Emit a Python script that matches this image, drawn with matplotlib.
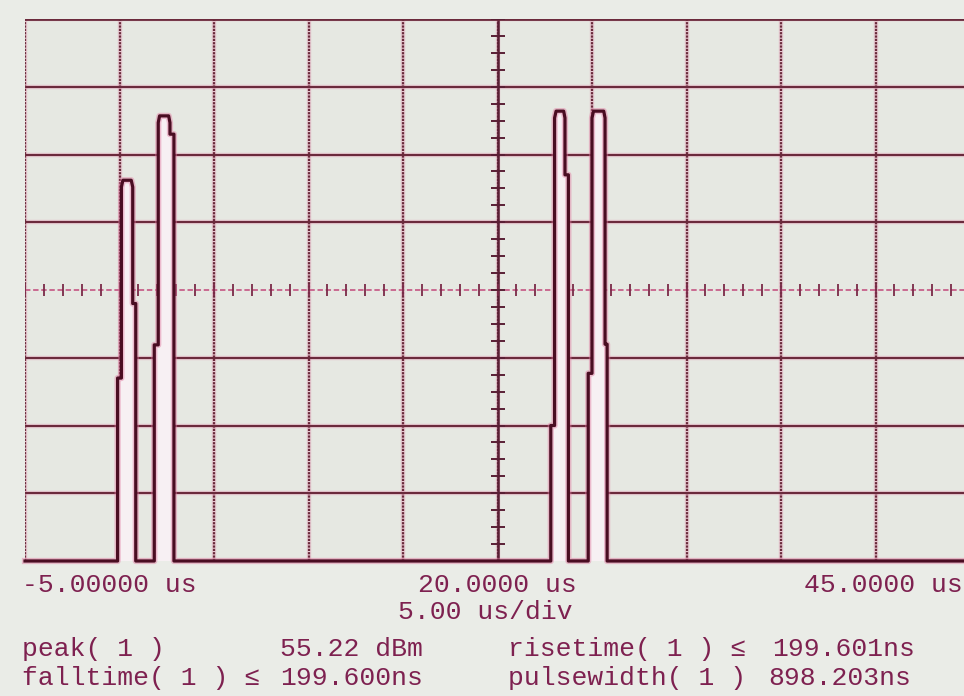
import numpy as np
import matplotlib.pyplot as plt
from matplotlib.transforms import offset_copy

# time axis of the scope (us) and screen divisions
t_start, t_stop = -5.0, 45.0
us_per_div = 5.0
n_vdiv = 8

time_ticks = [-5, 20, 45]
time_labels = ['-5.00000 us', '20.0000 us', '45.0000 us']
timebase_text = '5.00 us/div'

# pulse traces, time in us, level in screen divisions
pulse1_t = [-0.10, -0.10, 0.10, 0.10, 0.18, 0.62, 0.70, 0.70, 0.86, 0.86]
pulse1_lvl = [0, 2.70, 2.70, 5.52, 5.62, 5.62, 5.52, 3.80, 3.80, 0]
pulse2_t = [1.84, 1.84, 2.05, 2.05, 2.12, 2.60, 2.67, 2.67, 2.88, 2.88]
pulse2_lvl = [0, 3.19, 3.19, 6.47, 6.57, 6.57, 6.47, 6.30, 6.30, 0]
pulse3_t = [22.82, 22.82, 23.02, 23.02, 23.10, 23.50, 23.57, 23.57, 23.75, 23.75]
pulse3_lvl = [0, 2.00, 2.00, 6.54, 6.64, 6.64, 6.54, 5.70, 5.70, 0]
pulse4_t = [24.80, 24.80, 25.00, 25.00, 25.08, 25.62, 25.69, 25.69, 25.80, 25.80]
pulse4_lvl = [0, 2.77, 2.77, 6.54, 6.64, 6.64, 6.54, 3.20, 3.20, 0]

# measurement readout
meas_names = ['peak( 1 )', 'risetime( 1 ) \u2264', 'falltime( 1 ) \u2264', 'pulsewidth( 1 )']
meas_values = ['55.22 dBm', '199.601ns', '199.600ns', '898.203ns']

grid_c = '#6b2a3c'
trace_c = '#4a0d22'
text_c = '#7e2150'
font = 'Liberation Mono'

fig = plt.figure(figsize=(9.64, 6.96), dpi=100, facecolor='#eaece7')
ax = fig.add_axes([25 / 964, 135 / 696, 945 / 964, 542 / 696])
ax.set_facecolor('#e6e8e2')
ax.set_xlim(t_start, t_stop)
ax.set_ylim(0, n_vdiv)
for s in ax.spines.values():
    s.set_visible(False)
ax.set_xticks([])
ax.set_yticks([])

# graticule
grid_x = np.arange(t_start, t_stop + 0.1, us_per_div)
for x in grid_x:
    ax.axvline(x, color='#e07aa0', lw=3.2, alpha=0.3, zorder=1)
    ax.axvline(x, color=grid_c, lw=1.6, ls=(0, (1.0, 0.5)), zorder=2)
for y in range(n_vdiv + 1):
    if y == n_vdiv // 2:
        continue
    ax.axhline(y, color='#e07aa0', lw=3.2, alpha=0.3, zorder=1)
    ax.axhline(y, color=grid_c, lw=1.5, zorder=2)

# centre lines with minor ticks
mid_t = (t_start + t_stop) / 2
ax.axvline(mid_t, color='#5a1f35', lw=1.8, zorder=2)
ax.axhline(n_vdiv / 2, color='#c8608a', lw=1.3, ls=(0, (3, 1.5)), zorder=2)
ax.plot(np.arange(t_start, t_stop + 0.01, us_per_div / 5), np.full(51, n_vdiv / 2),
        ls='none', marker='|', ms=9, mew=1.3, color='#7a2a48', zorder=3)
ax.plot(np.full(33, mid_t), np.arange(0, n_vdiv + 0.01, 0.25),
        ls='none', marker='_', ms=10, mew=1.4, color='#5a1f35', zorder=3)

# trace: baseline plus four pulses
pulses = [(pulse1_t, pulse1_lvl), (pulse2_t, pulse2_lvl),
          (pulse3_t, pulse3_lvl), (pulse4_t, pulse4_lvl)]
trace_t = [t_start]
trace_lvl = [0]
for pt, pl in pulses:
    ax.fill(pt, pl, color='#f7f0f3', zorder=4)
    trace_t += pt
    trace_lvl += pl
trace_t.append(t_stop)
trace_lvl.append(0)
ax.plot(trace_t, trace_lvl, color='#e07aa0', lw=4.5, alpha=0.45, zorder=5,
        solid_joinstyle='round', clip_on=False)
ax.plot(trace_t, trace_lvl, color=trace_c, lw=2.3, zorder=6,
        solid_joinstyle='round', clip_on=False)
ax.axhline(n_vdiv, color=grid_c, lw=2.0, zorder=2)

# time labels under the graticule
for t, lab, ha, dx in zip(time_ticks, time_labels, ['left', 'center', 'right'], [-3, 0, -7]):
    tr = offset_copy(ax.get_xaxis_transform(), fig=fig, x=dx, y=-24, units='dots')
    ax.text(t, 0, lab, transform=tr, ha=ha, va='center', fontsize=19,
            family=font, color=text_c, clip_on=False)


def put(px, py, s, **kw):
    fig.text(px / 964, 1 - py / 696, s, fontsize=19, family=font,
             color=text_c, va='center', **kw)


put(485, 612, timebase_text, ha='center')
put(22, 649, meas_names[0])
put(280, 649, meas_values[0])
put(508, 649, meas_names[1])
put(772, 649, meas_values[1])
put(22, 678, meas_names[2])
put(280, 678, meas_values[2])
put(508, 678, meas_names[3])
put(768, 678, meas_values[3])

fig.savefig('out.png', dpi=100, facecolor=fig.get_facecolor())
